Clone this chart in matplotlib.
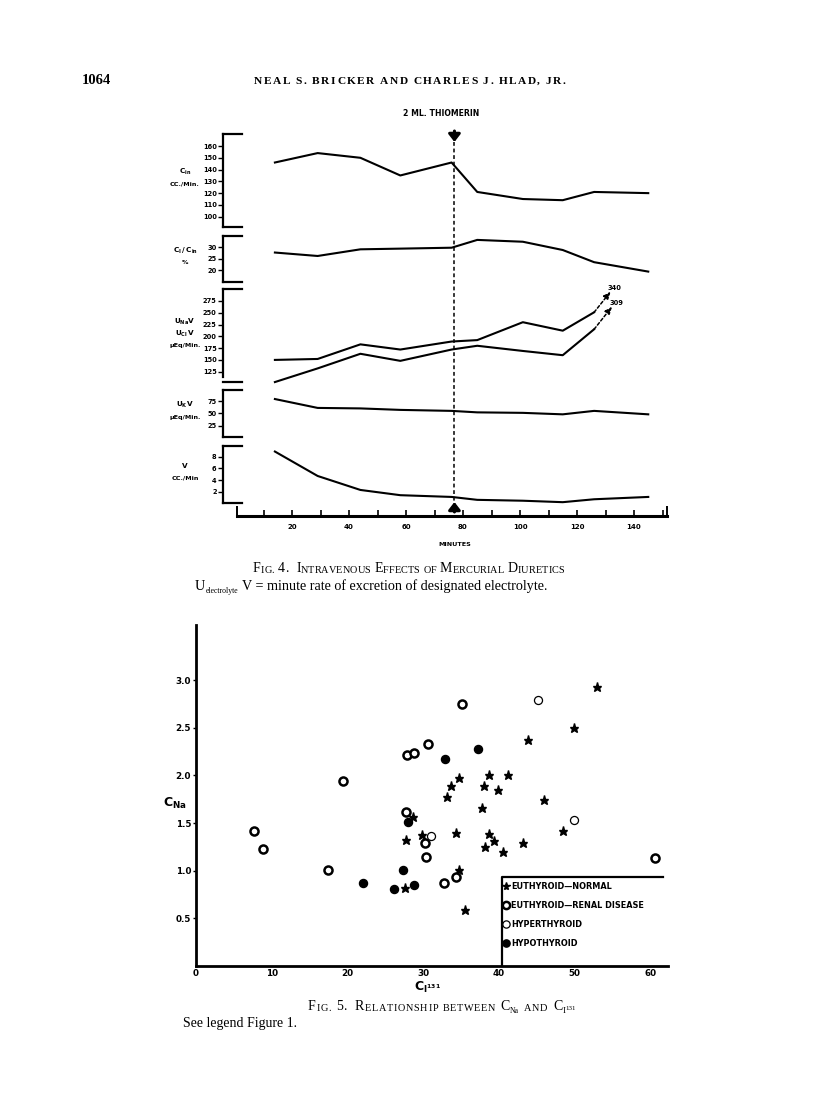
import re
import matplotlib
matplotlib.use('Agg')
import matplotlib.pyplot as plt

W, H = 816, 1109

# ---- Fig. 4 data ----
minutes = [14, 29, 44, 58, 76, 85, 101, 115, 126, 145]
c_in = [146, 154, 150, 135, 146, 121, 115, 114, 121, 120]
ci_c_in = [27.7, 26.2, 29.1, 29.4, 29.8, 33.2, 32.4, 28.8, 23.5, 19.4]
u_na_v = [150, 152, 183, 172, 189, 192, 230, 212, 251]
u_cl_v = [103, 132, 163, 148, 172, 180, 169, 160, 215]
u_na_peak = 340
u_cl_peak = 309
u_k_v = [79, 61, 60, 57, 55, 52, 51, 48, 55, 48]
v_flow = [8.9, 4.7, 2.3, 1.4, 1.1, 0.6, 0.45, 0.2, 0.7, 1.1]
dose_minute = 77
dose_label = '2 ML. THIOMERIN'
minute_ticks = list(range(10, 151, 10))

# ---- Fig. 5 data ----
normal_x = [28.6, 27.7, 29.8, 27.6, 34.7, 35.5, 34.3, 33.2, 33.7, 34.8, 37.8, 38.0, 38.7,
            38.7, 38.2, 39.3, 39.9, 41.2, 40.6, 43.2, 43.9, 46.0, 48.5, 49.9, 53.0]
normal_y = [1.56, 1.32, 1.37, 0.82, 1.01, 0.59, 1.40, 1.77, 1.89, 1.97, 1.66, 1.89, 2.00,
            1.39, 1.25, 1.31, 1.85, 2.00, 1.20, 1.29, 2.37, 1.74, 1.42, 2.50, 2.93]
renal_x = [7.6, 8.8, 17.4, 19.4, 27.9, 28.8, 30.6, 35.1, 27.7, 30.3, 30.4, 32.7, 34.3, 60.6]
renal_y = [1.42, 1.23, 1.01, 1.94, 2.21, 2.24, 2.33, 2.75, 1.62, 1.29, 1.14, 0.87, 0.93, 1.13]
hyper_x = [31.0, 45.2, 49.9]
hyper_y = [1.36, 2.79, 1.53]
hypo_x = [22.1, 26.1, 27.4, 28.8, 28.0, 32.9, 37.3]
hypo_y = [0.87, 0.81, 1.01, 0.85, 1.51, 2.17, 2.28]
group_labels = ['EUTHYROID\u2014NORMAL', 'EUTHYROID\u2014RENAL DISEASE',
                'HYPERTHYROID', 'HYPOTHYROID']

plt.rcParams.update({'font.family': 'DejaVu Sans', 'font.weight': 'bold',
                     'mathtext.fontset': 'dejavusans', 'text.color': 'black'})
SERIF = 'Liberation Serif'

fig = plt.figure(figsize=(W / 100, H / 100), dpi=100)
page = fig.add_axes([0, 0, 1, 1])
page.set_xlim(0, W)
page.set_ylim(H, 0)
page.axis('off')


def px_axes(left, top, right, bottom):
    ax = fig.add_axes([left / W, 1 - bottom / H, (right - left) / W, (bottom - top) / H])
    ax.patch.set_visible(False)
    return ax


# minutes -> page pixels
X0, XS = 235, 2.85


def minute_lim(left, right):
    return ((left - X0) / XS, (right - X0) / XS)


def chain_text(x, y, runs, **kw):
    prev = None
    for s, size, gap, dy in runs:
        if prev is None:
            prev = page.text(x, y, s, fontsize=size, va='baseline', ha='left', **kw)
        else:
            prev = page.annotate(s, xy=(1, 0), xycoords=prev, xytext=(gap, dy),
                                 textcoords='offset points', fontsize=size,
                                 va='bottom', ha='left', **kw)
    return prev


def caps_runs(text, big, small, track=0.0, space=0.27):
    # small capitals, one run per letter so the letters can be spaced out
    runs, gap = [], 0
    for word in re.split(r'( +)', text):
        if not word:
            continue
        if word.startswith(' '):
            gap += len(word) * big * space
            continue
        cur_big = None
        for ch in word:
            if ch.isalpha():
                b = ch.isupper()
            elif ch.isdigit():
                b = True
            else:
                b = cur_big if cur_big is not None else True
            runs.append((ch.upper(), big if b else small, gap + track, 0))
            cur_big = b
            gap = 0
    return runs


# ---- page header ----
page.text(82, 84, '1064', family=SERIF, fontsize=10.5, weight='bold', va='baseline')
chain_text(254, 84, caps_runs('NEAL S. BRICKER AND CHARLES J. HLAD, JR.', 8.2, 8.2,
                              track=1.1, space=0.35),
           family=SERIF, weight='bold')

# ---- Fig. 4 panels ----
PL, PR = 223, 668
ARM = 19 / (PR - PL)
panels = [
    (134, 226.7, (91.5, 170.2), range(100, 161, 10), [c_in], (r'$\mathbf{C_{in}}$', 'CC./Min.')),
    (236, 281.7, (15.0, 34.9), [20, 25, 30], [ci_c_in], (r'$\mathbf{C_I\,/\,C_{in}}$', '%')),
    (289.3, 382.3, (102.5, 299.8), range(125, 276, 25), [u_na_v, u_cl_v],
     (r'$\mathbf{U_{Na}V}$', r'$\mathbf{U_{Cl}\,V}$', '\u03bcEq/Min.')),
    (390, 436.7, (2.7, 97.3), [25, 50, 75], [u_k_v], (r'$\mathbf{U_K V}$', '\u03bcEq/Min.')),
    (445.7, 502.7, (0.11, 9.9), [2, 4, 6, 8], [v_flow], ('V', 'CC./Min')),
]
axes4 = []
for top, bottom, ylim, ticks, series, label in panels:
    ax = px_axes(PL, top, PR, bottom)
    ax.set_xlim(minute_lim(PL, PR))
    ax.set_ylim(ylim)
    for s in ['top', 'right', 'bottom']:
        ax.spines[s].set_visible(False)
    ax.spines['left'].set_linewidth(1.6)
    ax.set_xticks([])
    ax.set_yticks(list(ticks))
    ax.tick_params(axis='y', direction='out', length=3.5, width=1, labelsize=4.8, pad=1)
    for yy in (0, 1):
        ax.plot([0, ARM], [yy, yy], transform=ax.transAxes, color='k', lw=1.6,
                clip_on=False, solid_capstyle='projecting')
    for vals in series:
        ax.plot(minutes[:len(vals)], vals, color='k', lw=1.5, clip_on=False)
    yc = (top + bottom) / 2
    n = len(label)
    for i, s in enumerate(label):
        page.text(185, yc - 6 * (n - 1) + 12 * i - 2, s, fontsize=4.6 if i == n - 1 else 5.2,
                  ha='center', va='center')
    axes4.append(ax)

# break in the electrolyte panel's spine
axes4[2].spines['left'].set_bounds(114, 299.8)

# dashed extensions to the off-scale peaks
ax3 = axes4[2]
for vals, peak, rise, dx in [(u_na_v, u_na_peak, 44, 5.8), (u_cl_v, u_cl_peak, 48, 6.3)]:
    tip = (minutes[len(vals) - 1] + dx, vals[-1] + rise)
    ax3.annotate('', xy=tip, xytext=(minutes[len(vals) - 1], vals[-1]),
                 arrowprops=dict(arrowstyle='-|>,head_width=0.25,head_length=0.6',
                                 ls=(0, (2, 1.5)), lw=1.1, color='k',
                                 shrinkA=0, shrinkB=0, mutation_scale=7))
    ax3.annotate(str(peak), xy=tip, xytext=(3, 0.5), textcoords='offset points',
                 fontsize=4.8, ha='center', va='bottom')

# dose marker across all panels
ov = px_axes(PL, 128, PR, 514)
ov.set_xlim(minute_lim(PL, PR))
ov.set_ylim(514, 128)
ov.axis('off')
ov.plot([dose_minute, dose_minute], [142, 502], color='k', lw=1.1, dashes=(2.5, 1.8))
for tail, tip in [(131, 142), (512, 502)]:
    ov.annotate('', xy=(dose_minute, tip), xytext=(dose_minute, tail),
                arrowprops=dict(arrowstyle='-|>,head_width=0.35,head_length=0.45',
                                lw=2.2, color='k', shrinkA=0, shrinkB=0, mutation_scale=10))
page.text(441, 113, dose_label, fontsize=5.6, ha='center', va='center')

# time axis
axx = px_axes(237, 495, 667, 516)
lo, hi = minute_lim(237, 667)
axx.set_xlim(lo, hi)
axx.set_ylim(0, 1)
for s in ['top', 'right', 'left']:
    axx.spines[s].set_visible(False)
axx.spines['bottom'].set_linewidth(2.2)
axx.set_yticks([])
axx.set_xticks(minute_ticks)
axx.set_xticklabels([str(t) if t % 20 == 0 and t < 150 else '' for t in minute_ticks])
axx.set_xticks([lo, hi], minor=True)
axx.tick_params(axis='x', which='major', direction='in', length=4, width=1.2,
                labelsize=5, pad=6)
axx.tick_params(axis='x', which='minor', direction='in', length=7, width=1.4)
page.text(455, 544, 'MINUTES', fontsize=4.6, ha='center', va='center')

chain_text(253, 572, caps_runs('Fig. 4.  Intravenous Effects of Mercurial Diuretics',
                               10, 7.4, track=0.05),
           family=SERIF, weight='normal')
chain_text(195, 590, [('U', 10.2, 0, 0), ('electrolyte', 5.6, 0.3, -1.2),
                      ('V = minute rate of excretion of designated electrolyte.', 10.2, 2.5, 1.2)],
           family=SERIF, weight='normal')

# ---- Fig. 5 ----
ax5 = px_axes(196, 625, 668, 966)
ax5.set_xlim(0, 62.35)
ax5.set_ylim(0, 3.578)
for s in ['top', 'right']:
    ax5.spines[s].set_visible(False)
for s in ['left', 'bottom']:
    ax5.spines[s].set_linewidth(2)
ax5.set_xticks(range(0, 61, 10))
ax5.set_yticks([0.5, 1.0, 1.5, 2.0, 2.5, 3.0])
ax5.set_yticklabels(['0.5', '1.0', '1.5', '2.0', '2.5', '3.0'])
ax5.tick_params(axis='y', direction='out', length=2.5, width=1, labelsize=6.3, pad=1)
ax5.tick_params(axis='x', length=0, labelsize=6.3, pad=2)

h1, = ax5.plot(normal_x, normal_y, ls='none', marker='*', ms=6.5, color='k')
h2, = ax5.plot(renal_x, renal_y, ls='none', marker='o', ms=5.8, mfc='white', mec='k', mew=1.8)
h3, = ax5.plot(hyper_x, hyper_y, ls='none', marker='o', ms=5.8, mfc='white', mec='k', mew=0.9)
h4, = ax5.plot(hypo_x, hypo_y, ls='none', marker='o', ms=5.8, color='k')

ax5.plot([40.4, 40.4, 61.7], [0, 0.937, 0.937], color='k', lw=1.6, clip_on=False)
ax5.legend([h1, h2, h3, h4], group_labels, loc='upper left', bbox_to_anchor=(40.6, 0.88),
           bbox_transform=ax5.transData, frameon=False, fontsize=5.9, handlelength=0.6,
           handletextpad=0.35, labelspacing=1.2, borderpad=0, borderaxespad=0,
           markerscale=0.9)

page.text(175, 803, r'$\mathbf{C_{Na}}$', fontsize=9, ha='center', va='center')
page.text(428, 987, r'$\mathbf{C_{I^{131}}}$', fontsize=9, ha='center', va='center')

chain_text(308, 1010, caps_runs('Fig. 5.  Relationship between', 10, 7.4, track=0.5)
           + [('C', 10, 3.5, 0), ('Na', 5.5, 0, -1.2), ('A', 7.4, 4, 1.2),
              ('N', 7.4, 0.5, 0), ('D', 7.4, 0.5, 0),
              ('C', 10, 4, 0), ('I', 6.5, 0, -1.2), ('131', 5, 0.3, 2.5)],
           family=SERIF, weight='normal')
page.text(183, 1027, 'See legend Figure 1.', family=SERIF, fontsize=10, weight='normal',
          va='baseline')

fig.savefig('out.png', dpi=100)
